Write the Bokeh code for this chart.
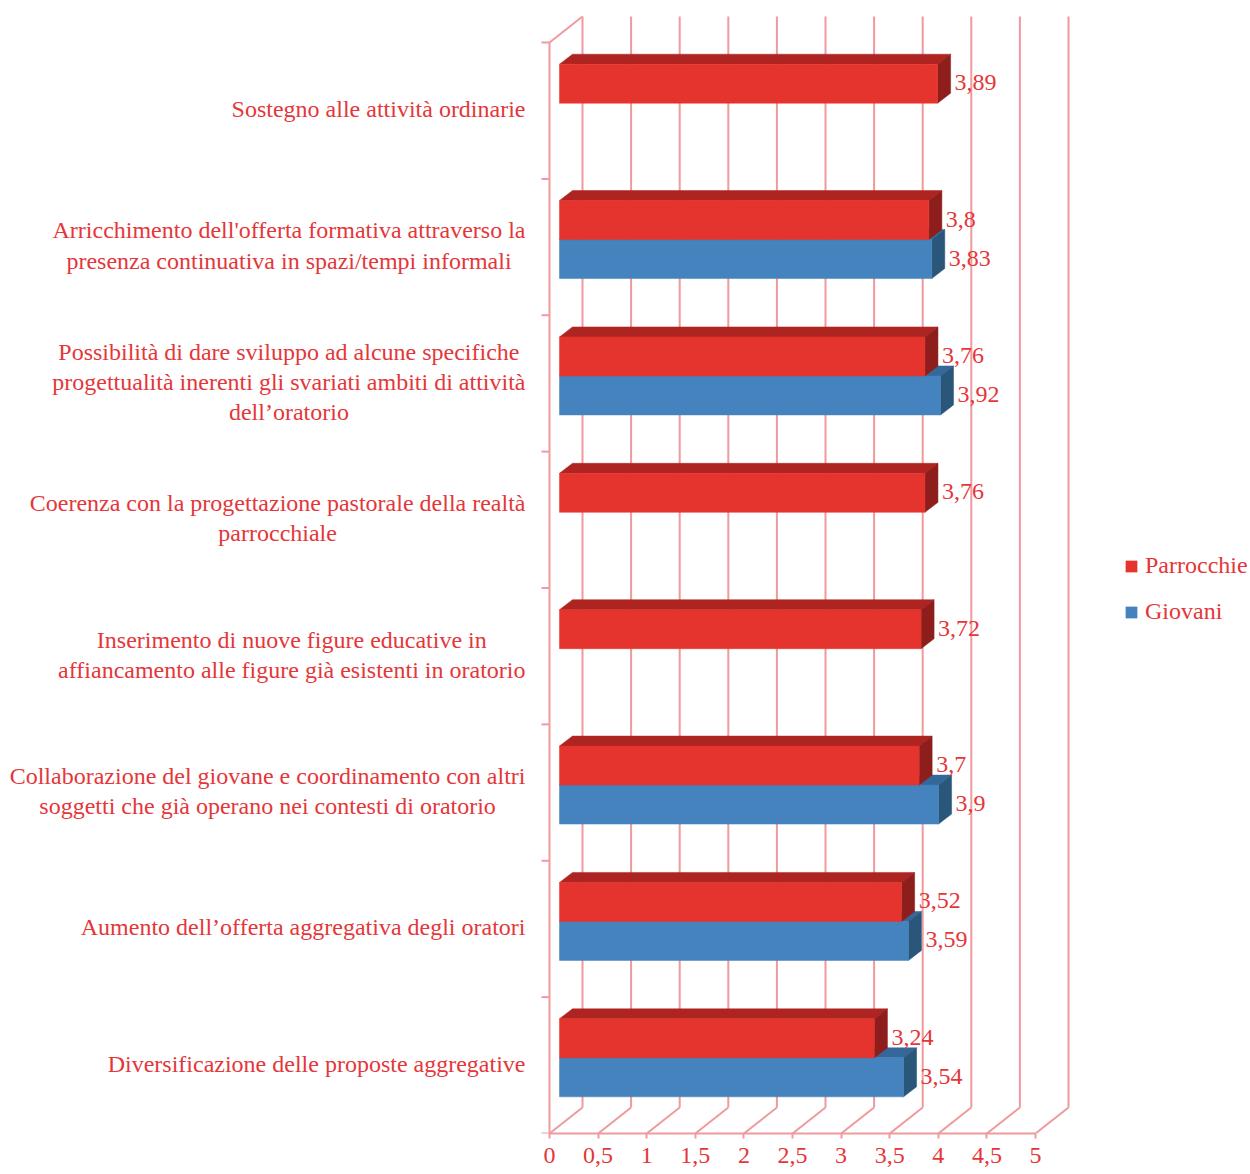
from bokeh.plotting import figure
from bokeh.models import (Range1d, LinearAxis, FixedTicker, Legend, LegendItem,
                          ColumnDataSource, CustomJSTickFormatter)
from bokeh.core.properties import value
from bokeh.embed import file_html
from bokeh.resources import INLINE

# ---------------- data ----------------
categories = [
    "Sostegno alle attività ordinarie",
    "Arricchimento dell'offerta formativa attraverso la\npresenza continuativa in spazi/tempi informali",
    "Possibilità di dare sviluppo ad alcune specifiche\nprogettualità inerenti gli svariati ambiti di attività\ndell’oratorio",
    "Coerenza con la progettazione pastorale della realtà\nparrocchiale",
    "Inserimento di nuove figure educative in\naffiancamento alle figure già esistenti in oratorio",
    "Collaborazione del giovane e coordinamento con altri\nsoggetti che già operano nei contesti di oratorio",
    "Aumento dell’offerta aggregativa degli oratori",
    "Diversificazione delle proposte aggregative",
]
parrocchie = [3.89, 3.8, 3.76, 3.76, 3.72, 3.7, 3.52, 3.24]
giovani = [None, 3.83, 3.92, None, None, 3.9, 3.59, 3.54]
series_names = ["Parrocchie", "Giovani"]
x_ticks = [0, 0.5, 1, 1.5, 2, 2.5, 3, 3.5, 4, 4.5, 5]

# ---------------- layout / style ----------------
W, H = 1250, 1174
FRAME_H = 1133
X0 = 549.0          # pixel of value 0 (front plane)
UX = 97.2           # pixels per unit
TOP = 42.0          # pixel top of front category axis
BH = (FRAME_H - TOP) / len(categories)   # pixels per category band

def dx(px):
    return px / UX

def dy(px):
    return px / BH

BACK_X, BACK_Y = 33, 26     # back wall offset (px)
SHIFT_X, SHIFT_Y = 10, 7.5  # bar placement in depth (px)
DEP_X, DEP_Y = 13, 10       # bar depth (px)
BAR_H = 39                  # bar thickness (px)
LABEL_GAP = 27              # data label offset from value (px)

GRID = "#ef9a9d"
TXT = "#e5363a"
FONT = "Liberation Serif"
FS = "24px"
RED = dict(front="#e5332e", top="#ae2420", side="#8e1e1c")
BLUE = dict(front="#4483bd", top="#35689a", side="#2a567a")

p = figure(width=W, height=H, output_backend="svg", toolbar_location=None,
           x_range=Range1d(-X0 / UX, (W - X0) / UX),
           y_range=Range1d(0, FRAME_H / BH),
           x_axis_location=None, y_axis_location=None,
           min_border_left=0, min_border_right=0, min_border_top=0,
           min_border_bottom=H - FRAME_H)
p.outline_line_color = None
p.background_fill_color = "white"
p.border_fill_color = "white"
p.grid.visible = False

ncat = len(categories)
ymax = float(ncat)

# ---- back wall gridlines and floor ----
gx0, gy0, gx1, gy1 = [], [], [], []
for t in x_ticks:
    gx0.append(t + dx(BACK_X)); gy0.append(dy(BACK_Y))
    gx1.append(t + dx(BACK_X)); gy1.append(ymax + dy(BACK_Y))
    gx0.append(t); gy0.append(0)
    gx1.append(t + dx(BACK_X)); gy1.append(dy(BACK_Y))
gx0 += [0, 0]; gy0 += [0, ymax]
gx1 += [0, dx(BACK_X)]; gy1 += [ymax, ymax + dy(BACK_Y)]
for k in range(ncat + 1):
    gx0.append(-dx(8)); gy0.append(k)
    gx1.append(0); gy1.append(k)
p.segment(gx0, gy0, gx1, gy1, line_color=GRID, line_width=2)

# ---- bars ----
def faces(vals, low_px, high_px):
    fx, fy, tx, ty, sx, sy = [], [], [], [], [], []
    for i, v in enumerate(vals):
        if v is None:
            continue
        c = (ncat - 1 - i) + 0.5
        yb = c + dy(low_px)
        yt = c + dy(high_px)
        x0 = dx(SHIFT_X)
        x1 = v + dx(SHIFT_X)
        ddx, ddy = dx(DEP_X), dy(DEP_Y)
        fx.append([x0, x1, x1, x0]); fy.append([yb, yb, yt, yt])
        tx.append([x0, x1, x1 + ddx, x0 + ddx]); ty.append([yt, yt, yt + ddy, yt + ddy])
        sx.append([x1, x1 + ddx, x1 + ddx, x1]); sy.append([yb, yb + ddy, yt + ddy, yt])
    return fx, fy, tx, ty, sx, sy

def draw(vals, low_px, high_px, col):
    fx, fy, tx, ty, sx, sy = faces(vals, low_px, high_px)
    p.patches(tx, ty, fill_color=col["top"], line_color=col["top"], line_width=0.5)
    p.patches(sx, sy, fill_color=col["side"], line_color=col["side"], line_width=0.5)
    return p.patches(fx, fy, fill_color=col["front"], line_color=col["front"], line_width=0.5)

r_blue = draw(giovani, -(BAR_H - SHIFT_Y), SHIFT_Y, BLUE)
r_red = draw(parrocchie, SHIFT_Y, SHIFT_Y + BAR_H, RED)

# ---- data labels ----
lx, ly, lt = [], [], []
for i, v in enumerate(parrocchie):
    c = (ncat - 1 - i) + 0.5
    lx.append(v + dx(LABEL_GAP)); ly.append(c + dy(SHIFT_Y + BAR_H / 2 + 1))
    lt.append(str(v).replace(".", ","))
for i, v in enumerate(giovani):
    if v is None:
        continue
    c = (ncat - 1 - i) + 0.5
    lx.append(v + dx(LABEL_GAP)); ly.append(c - dy(BAR_H / 2 - SHIFT_Y - 1))
    lt.append(str(v).replace(".", ","))
p.text(lx, ly, text=lt, text_font=value(FONT), text_font_size=FS,
       text_color=TXT, text_align="left", text_baseline="middle")

# ---- category labels ----
cy = [(ncat - 1 - i) + 0.5 + dy(1.5) for i in range(ncat)]
src = ColumnDataSource(dict(x=[-dx(X0 - 525)] * ncat, y=cy, t=categories))
p.text(x="x", y="y", text="t", source=src, text_font=value(FONT),
       text_font_size=FS, text_color=TXT, text_align="center",
       anchor=value("center_right"), text_baseline="middle", text_line_height=1.16)

# ---- x axis ----
ax = LinearAxis(ticker=FixedTicker(ticks=x_ticks), bounds=(0, 5))
ax.formatter = CustomJSTickFormatter(code="return tick.toString().replace('.', ',');")
ax.axis_line_color = GRID
ax.axis_line_width = 2
ax.major_tick_line_color = GRID
ax.major_tick_line_width = 2
ax.major_tick_in = 0
ax.major_tick_out = 5
ax.minor_tick_line_color = None
ax.major_label_standoff = 9
ax.major_label_text_font = FONT
ax.major_label_text_font_size = FS
ax.major_label_text_color = TXT
p.add_layout(ax, "below")

# ---- legend ----
legend = Legend(items=[LegendItem(label=series_names[0], renderers=[r_red]),
                       LegendItem(label=series_names[1], renderers=[r_blue])],
                location=(1124, 1133 - 625), orientation="vertical",
                glyph_width=14, glyph_height=14, label_standoff=7,
                spacing=19, padding=0, margin=0,
                label_text_font=FONT, label_text_font_size=FS,
                label_text_color=TXT, border_line_color=None,
                background_fill_alpha=0)
p.add_layout(legend)

open("out.html", "w").write(file_html(p, INLINE))
